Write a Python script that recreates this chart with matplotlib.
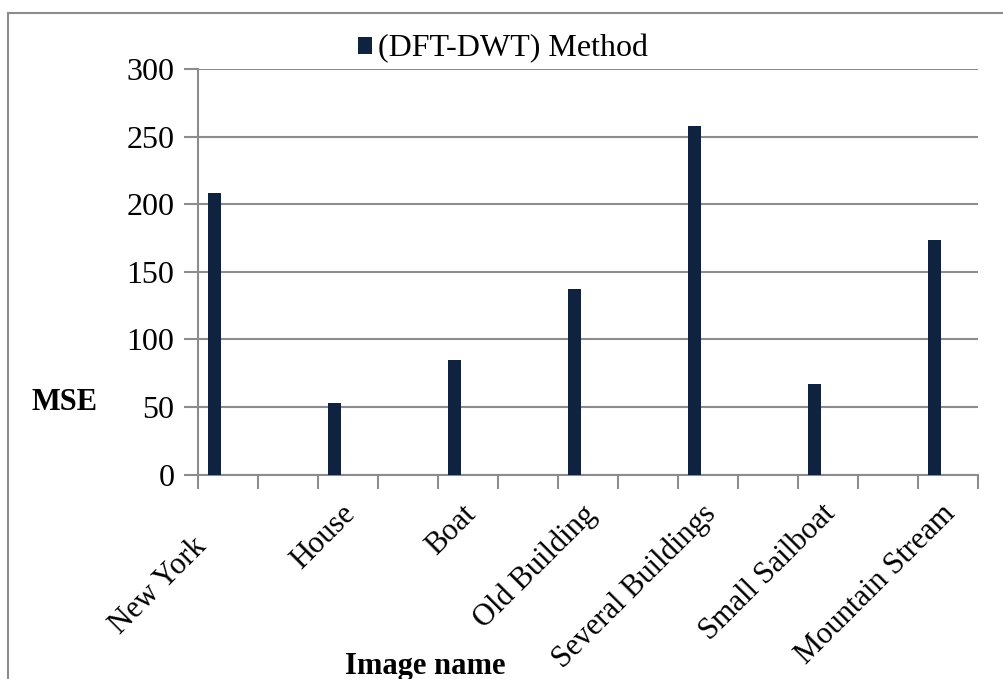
import matplotlib
matplotlib.use("Agg")
import matplotlib.pyplot as plt
from matplotlib.lines import Line2D
from matplotlib.transforms import ScaledTranslation

plt.rcParams['font.family'] = ['Liberation Serif', 'DejaVu Serif']

# MSE per test image for the (DFT-DWT) method
images = ["New York", "House", "Boat", "Old Building",
          "Several Buildings", "Small Sailboat", "Mountain Stream"]
mse = [208.4, 52.6, 84.7, 137.0, 257.6, 66.7, 173.3]
series_name = "(DFT-DWT) Method"
y_ticks = [0, 50, 100, 150, 200, 250, 300]

bar_color = "#0f2340"
grid_color = "#8c8c8c"

fig = plt.figure(figsize=(10.04, 6.79), dpi=100)
W, H = 1004, 679
ax = fig.add_axes([198 / W, 1 - 474.5 / H, (978 - 198) / W, (474.5 - 69) / H])

# each image sits in every other category slot, bar offset left in its slot
centers = [2 * i for i in range(len(images))]
bar_pos = [c - 0.225 for c in centers]
bars = ax.bar(bar_pos, mse, width=0.217, color=bar_color, label=series_name, zorder=3)

ax.set_xlim(-0.5, 12.5)
ax.set_ylim(0, 300)
ax.set_yticks(y_ticks)
ax.set_yticklabels([str(v) for v in y_ticks], fontsize=23)
ax.yaxis.grid(True, color=grid_color, linewidth=1.5, zorder=0)

# slot boundaries as tick marks, names at the slot centres
ax.set_xticks([k - 0.5 for k in range(14)])
ax.set_xticklabels([])
ax.set_xticks(centers, minor=True)
ax.set_xticklabels(images, minor=True, fontsize=22, rotation=45,
                   ha='right', va='top', rotation_mode='anchor')
ax.tick_params(axis='x', which='major', direction='out', length=10,
               width=1.5, color=grid_color)
ax.tick_params(axis='x', which='minor', length=0, pad=18)
ax.tick_params(axis='y', direction='out', length=10, width=1.5,
               color=grid_color, pad=7)

labels = ax.get_xticklabels(minor=True)
for i, lab in enumerate(labels):
    dx, dy = (-0.36, -0.33) if i == 0 else (-0.07, 0.0)
    lab.set_transform(lab.get_transform() +
                      ScaledTranslation(dx, dy, fig.dpi_scale_trans))

for side in ("top", "right"):
    ax.spines[side].set_visible(False)
for side in ("left", "bottom"):
    ax.spines[side].set_color(grid_color)
    ax.spines[side].set_linewidth(1.5)

fig.text(65 / W, 1 - 403 / H, "MSE", fontsize=22, fontweight='bold',
         ha='center', va='center')
fig.text(425 / W, 1 - 652 / H, "Image name", fontsize=22, fontweight='bold',
         ha='center', va='top')

fig.legend(handles=[bars], labels=[series_name], loc='center left',
           bbox_to_anchor=(358 / W, 1 - 49 / H), frameon=False, fontsize=23,
           borderpad=0, borderaxespad=0, handlelength=0.44, handleheight=0.44,
           handletextpad=0.19)

# outer chart frame
fig.add_artist(Line2D([8 / W, 1.0], [1 - 12.5 / H, 1 - 12.5 / H],
                      transform=fig.transFigure, color=grid_color, linewidth=1.5))
fig.add_artist(Line2D([8 / W, 8 / W], [0.0, 1 - 12.5 / H],
                      transform=fig.transFigure, color=grid_color, linewidth=1.5))

fig.savefig("out.png", dpi=100)
